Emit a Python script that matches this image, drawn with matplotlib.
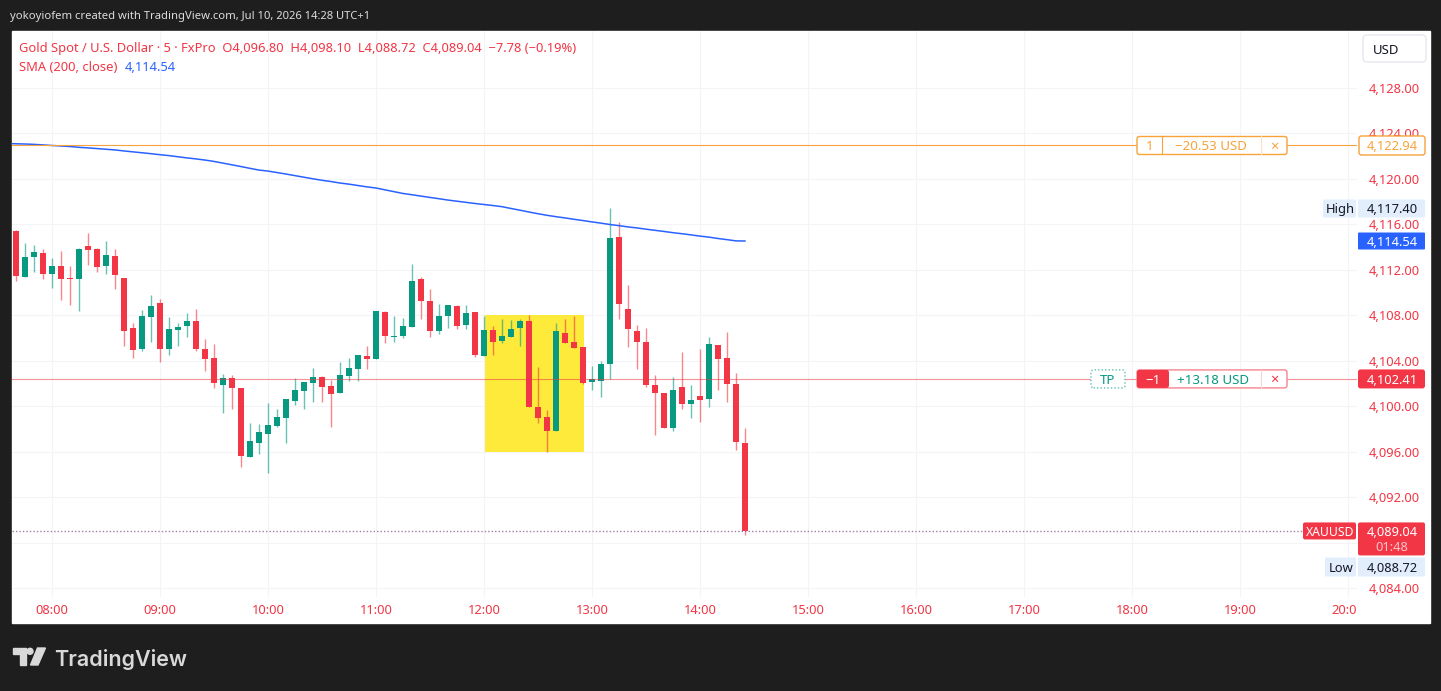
import matplotlib
matplotlib.use("Agg")
import matplotlib.pyplot as plt
import matplotlib.patches as mpatches
from matplotlib.transforms import IdentityTransform, Bbox, blended_transform_factory

plt.rcParams['font.family'] = ['Noto Sans', 'DejaVu Sans']

# ---- data (5-minute XAUUSD bars) ----
first_bar = "07:40"
sma_first = "07:35"
bar_minutes = 5

opens = [4115.42, 4111.38, 4113.14, 4113.49, 4111.64, 4112.35, 4111.29, 4111.20, 4114.10, 4113.84,
         4112.35, 4113.22, 4111.29, 4106.89, 4105.05, 4107.86, 4109.09, 4105.05, 4106.72, 4107.07,
         4107.51, 4105.05, 4104.25, 4101.88, 4102.49, 4101.62, 4095.55, 4096.78, 4097.57, 4098.27,
         4098.98, 4100.47, 4101.35, 4102.06, 4102.58, 4101.79, 4101.18, 4102.67, 4103.29, 4104.43,
         4104.17, 4108.30, 4106.10, 4106.19, 4106.98, 4111.20, 4109.27, 4106.63, 4107.95, 4108.83,
         4107.16, 4108.30, 4104.43, 4106.72, 4105.75, 4106.10, 4106.89, 4107.51, 4099.94, 4099.07,
         4097.83, 4106.45, 4105.66, 4105.22, 4102.14, 4102.23, 4103.73, 4114.90, 4108.56, 4106.63,
         4105.66, 4101.88, 4101.18, 4098.10, 4101.70, 4100.21, 4100.91, 4100.65, 4105.40, 4104.25,
         4101.97, 4096.80]
highs = [4115.51, 4114.37, 4114.19, 4113.84, 4113.05, 4113.67, 4112.35, 4113.93, 4115.25, 4113.93,
         4114.54, 4113.84, 4111.29, 4107.33, 4108.48, 4109.80, 4109.44, 4107.86, 4107.33, 4108.21,
         4108.56, 4105.92, 4105.49, 4102.85, 4102.76, 4101.62, 4098.54, 4098.45, 4100.30, 4099.77,
         4100.65, 4102.49, 4102.14, 4103.37, 4102.67, 4102.32, 4103.90, 4104.25, 4104.52, 4105.31,
         4108.39, 4108.39, 4107.95, 4107.77, 4112.52, 4111.38, 4110.32, 4109.00, 4108.92, 4108.92,
         4108.92, 4108.30, 4107.95, 4107.07, 4107.68, 4107.60, 4107.68, 4108.04, 4103.46, 4099.68,
         4107.33, 4107.68, 4107.95, 4105.22, 4103.55, 4103.99, 4117.40, 4116.22, 4110.67, 4107.16,
         4106.89, 4102.76, 4101.18, 4102.58, 4104.78, 4101.88, 4105.05, 4106.10, 4105.40, 4106.54,
         4102.94, 4098.10]
lows = [4111.03, 4111.38, 4111.82, 4111.20, 4110.41, 4109.35, 4108.92, 4108.39, 4112.43, 4111.82,
        4111.64, 4110.32, 4105.31, 4104.25, 4104.87, 4105.66, 4103.90, 4104.52, 4105.31, 4106.10,
        4104.87, 4103.11, 4101.62, 4099.42, 4099.77, 4094.67, 4095.55, 4095.81, 4094.14, 4098.19,
        4096.78, 4100.12, 4099.77, 4100.38, 4100.38, 4098.19, 4101.18, 4102.23, 4102.23, 4103.29,
        4104.17, 4105.57, 4105.66, 4106.01, 4106.98, 4107.68, 4106.10, 4106.37, 4106.89, 4106.80,
        4106.80, 4104.34, 4104.43, 4104.52, 4105.57, 4106.10, 4105.31, 4099.94, 4098.54, 4095.99,
        4097.83, 4105.57, 4105.13, 4101.97, 4101.44, 4100.82, 4102.41, 4107.68, 4105.22, 4103.29,
        4101.70, 4097.48, 4098.10, 4097.83, 4099.77, 4098.98, 4098.63, 4099.94, 4101.44, 4100.38,
        4096.16, 4088.72]
closes = [4111.47, 4113.14, 4113.58, 4111.64, 4112.35, 4111.20, 4111.20, 4113.84, 4113.75, 4112.26,
          4113.31, 4111.55, 4106.63, 4104.96, 4107.95, 4108.83, 4105.05, 4106.80, 4106.98, 4107.51,
          4105.05, 4104.17, 4102.06, 4102.49, 4101.62, 4095.64, 4096.95, 4097.75, 4098.36, 4099.07,
          4100.65, 4101.44, 4102.14, 4102.58, 4101.70, 4101.09, 4102.76, 4103.37, 4104.52, 4104.17,
          4108.39, 4106.19, 4106.19, 4107.07, 4111.03, 4109.27, 4106.63, 4107.95, 4108.92, 4107.07,
          4108.21, 4104.52, 4106.72, 4105.66, 4106.19, 4106.80, 4107.51, 4099.94, 4098.98, 4097.83,
          4106.63, 4105.57, 4105.13, 4102.06, 4102.41, 4103.73, 4114.81, 4109.00, 4106.80, 4105.66,
          4101.88, 4101.18, 4098.10, 4101.44, 4100.21, 4100.56, 4100.56, 4105.49, 4104.17, 4101.97,
          4096.82, 4089.04]
sma200 = [4123.12,
          4123.09, 4123.07, 4123.04, 4122.99, 4122.94, 4122.90, 4122.85, 4122.78, 4122.73, 4122.67,
          4122.61, 4122.55, 4122.46, 4122.38, 4122.30, 4122.22, 4122.13, 4122.05, 4121.95, 4121.85,
          4121.76, 4121.66, 4121.54, 4121.39, 4121.24, 4121.09, 4120.93, 4120.78, 4120.69, 4120.56,
          4120.43, 4120.29, 4120.15, 4120.01, 4119.88, 4119.77, 4119.64, 4119.54, 4119.42, 4119.30,
          4119.20, 4119.04, 4118.88, 4118.72, 4118.61, 4118.49, 4118.37, 4118.26, 4118.14, 4118.04,
          4117.94, 4117.84, 4117.75, 4117.66, 4117.56, 4117.40, 4117.25, 4117.09, 4116.94, 4116.80,
          4116.68, 4116.57, 4116.45, 4116.34, 4116.22, 4116.11, 4115.99, 4115.89, 4115.78, 4115.69,
          4115.58, 4115.48, 4115.38, 4115.27, 4115.18, 4115.08, 4114.97, 4114.88, 4114.76, 4114.66,
          4114.55, 4114.54]

stop_price = 4122.94
stop_pnl = "\u221220.53 USD"
tp_price = 4102.41
tp_pnl = "+13.18 USD"
box_times = ["12:00", "12:55"]
box_prices = [4095.99, 4108.04]
price_ticks = [4128, 4124, 4120, 4116, 4112, 4108, 4104, 4100, 4096, 4092, 4088, 4084]
hidden_ticks = [4088]   # covered by the last-price label
time_ticks = ["08:00", "09:00", "10:00", "11:00", "12:00", "13:00", "14:00",
              "15:00", "16:00", "17:00", "18:00", "19:00", "20:00"]
countdown = "01:48"

GREEN = '#089981'
RED = '#F23645'
BLUE = '#2962FF'
ORANGE = '#F7A33A'
W, H = 1441, 691


def bar_index(hhmm):
    h, m = hhmm.split(':')
    return (int(h) * 60 + int(m) - 8 * 60) / bar_minutes


fig = plt.figure(figsize=(W / 100, H / 100), dpi=100)
fig.patch.set_facecolor('#1e1e1e')
fig.add_artist(mpatches.Rectangle((12 / W, (H - 623) / H), (1430 - 12) / W, (623 - 31) / H,
                                  transform=fig.transFigure, color='white', zorder=-10))

ax = fig.add_axes([12 / W, (H - 597) / H, (1357 - 12) / W, (597 - 31) / H])
ax.set_facecolor('none')
ax.set_xlim(-4.44, 145.0)
ax.set_ylim(4083.23, 4133.01)
for s in ax.spines.values():
    s.set_visible(False)
ax.set_xticks([bar_index(t) for t in time_ticks])
ax.set_yticks(price_ticks)
ax.tick_params(length=0, labelbottom=False, labelleft=False)
ax.grid(True, color='#f3f4f7', lw=0.8)
ax.set_axisbelow(True)

# highlighted zone
b0, b1 = bar_index(box_times[0]), bar_index(box_times[1])
ax.add_patch(mpatches.Rectangle((b0 + 0.1, box_prices[0]), b1 - b0, box_prices[1] - box_prices[0],
                                facecolor='#FDEA3A', edgecolor='none', zorder=1))

# candles
x0 = bar_index(first_bar)
for i in range(len(opens)):
    x = x0 + i
    o, hi, lo, c = opens[i], highs[i], lows[i], closes[i]
    col = GREEN if c >= o else RED
    ax.vlines(x, lo, hi, color=col, lw=1.0, alpha=0.6, zorder=2)
    body = max(abs(c - o), 0.09)
    ax.add_patch(mpatches.Rectangle((x - 0.37, min(o, c)), 0.74, body,
                                    facecolor=col, edgecolor='none', zorder=3))

# SMA 200
sx = [bar_index(sma_first) + i for i in range(len(sma200))]
ax.plot(sx, sma200, color=BLUE, lw=1.1, zorder=4)

# order lines
ax.axhline(stop_price, color=ORANGE, lw=0.8, zorder=4)
ax.axhline(tp_price, color=RED, lw=0.8, alpha=0.55, zorder=4)
last_x_frac = (1302 - 12) / (1357 - 12)
ax.axhline(closes[-1], xmax=last_x_frac, color='#A77BA6', lw=1.0, ls=(0, (1, 1.5)), zorder=4)

ID = IdentityTransform()


def yp(price):
    return ax.transData.transform((0, price))[1]


def box(xa, xb, yc, h, fc, ec='none', ls='-', r=2.5, lw=1.0, z=5):
    p = mpatches.FancyBboxPatch((xa, yc - h / 2), xb - xa, h,
                                boxstyle=f"round,pad=0,rounding_size={r}",
                                facecolor=fc, edgecolor=ec, lw=lw, ls=ls, transform=ID, zorder=z)
    fig.add_artist(p)
    return p


def txt(x, y, s, z=7, **kw):
    kw.setdefault('fontsize', 9.3)
    kw.setdefault('va', 'center_baseline')
    return fig.text(x, y, s, transform=ID, zorder=z, **kw)


# price scale labels
for p in price_ticks:
    if p in hidden_ticks:
        continue
    txt(1420, yp(p), f"{p:,.2f}", ha='right', color=RED, z=3.5)

# time scale labels
clip = Bbox([[12, 0], [1357, H]])
tr = blended_transform_factory(ax.transData, ID)
for t in time_ticks:
    tt = fig.text(bar_index(t), H - 609, t, transform=tr, ha='center', va='center_baseline',
                  fontsize=9.3, color=RED, zorder=3)
    tt.set_clip_box(clip)
    tt.set_clip_on(True)

# stop loss labels
ys = yp(stop_price)
box(1137, 1287, ys, 18, 'white', ORANGE)
fig.add_artist(plt.Line2D([1162, 1162], [ys - 9, ys + 9], color=ORANGE, lw=0.8, transform=ID, zorder=6))
fig.add_artist(plt.Line2D([1261, 1261], [ys - 9, ys + 9], color='#fde3bd', lw=0.8, transform=ID, zorder=6))
txt(1149.5, ys, "1", ha='center', color=ORANGE, fontsize=9.6)
txt(1211, ys, stop_pnl, ha='center', color=ORANGE, fontsize=9.6)
txt(1274, ys, "\u00d7", ha='center', color=ORANGE, fontsize=10.5)
box(1359, 1425, ys, 19, 'white', ORANGE)
txt(1392, ys, f"{stop_price:,.2f}", ha='center', color=ORANGE)

# take profit labels
yt = yp(tp_price)
box(1091, 1125, yt, 18, 'white', '#5fbfae', ls=(0, (1, 1.5)))
txt(1108, yt, "TP", ha='center', color=GREEN, fontsize=9.6)
box(1137, 1287, yt, 18, 'white', '#f6838e')
fig.add_artist(mpatches.FancyBboxPatch((1137, yt - 9), 32, 18, boxstyle="round,pad=0,rounding_size=2.5",
                                       facecolor=RED, edgecolor='none', transform=ID, zorder=5.5))
fig.add_artist(plt.Line2D([1261, 1261], [yt - 9, yt + 9], color='#fbd4d8', lw=0.8, transform=ID, zorder=6))
txt(1153, yt, "\u22121", ha='center', color='white', fontsize=9.6)
txt(1213, yt, tp_pnl, ha='center', color=GREEN, fontsize=9.6)
txt(1274, yt, "\u00d7", ha='center', color=RED, fontsize=10.5)
box(1358, 1425, yt, 19, RED)
txt(1392, yt, f"{tp_price:,.2f}", ha='center', color='white')

# high / sma / last / low labels
y_hi = yp(max(highs))
box(1323, 1356, y_hi, 18, '#E3EEFC', r=1)
box(1358, 1425, y_hi, 18, '#E3EEFC', r=1)
txt(1340, y_hi, "High", ha='center', color='#131722')
txt(1392, y_hi, f"{max(highs):,.2f}", ha='center', color='#131722')

y_sma = yp(sma200[-1])
box(1358, 1425, y_sma, 17, BLUE, r=1)
txt(1392, y_sma, f"{sma200[-1]:,.2f}", ha='center', color='white')

y_last = yp(closes[-1])
box(1303, 1356, y_last, 17, RED, r=2)
txt(1330, y_last, "XAUUSD", ha='center', color='white', fontweight='bold', fontsize=8.8)
box(1358, 1425, y_last - 8, 33, RED, r=2)
txt(1392, y_last, f"{closes[-1]:,.2f}", ha='center', color='white')
txt(1392, y_last - 15, countdown, ha='center', color='#fcc5ca')

y_low = H - 567
box(1325, 1356, y_low, 19, '#E3EEFC', r=1)
box(1358, 1425, y_low, 19, '#E3EEFC', r=1)
txt(1341, y_low, "Low", ha='center', color='#131722')
txt(1392, y_low, f"{min(lows):,.2f}", ha='center', color='#131722')

# currency button
box(1363, 1426, H - 48.5, 27, 'white', '#e6e8ee', r=4)
txt(1373, H - 48.5, "USD", ha='left', color='#131722', fontsize=9.5)

# header texts
txt(10, H - 15, "yokoyiofem created with TradingView.com, Jul 10, 2026 14:28 UTC+1",
    color='#dcdcdc', fontsize=8.1)
chg = closes[-1] - closes[-2]
pct = chg / closes[-2] * 100
legend = (f"Gold Spot / U.S. Dollar \u00b7 5 \u00b7 FxPro  O{opens[-1]:,.2f}  H{highs[-1]:,.2f}  "
          f"L{lows[-1]:,.2f}  C{closes[-1]:,.2f}  \u2212{abs(chg):.2f} (\u2212{abs(pct):.2f}%)")
txt(19, H - 47, legend, color=RED, fontsize=9.3)
txt(19, H - 66, "SMA (200, close)", color=RED, fontsize=9.3)
txt(125, H - 66, f"{sma200[-1]:,.2f}", color=BLUE, fontsize=9.3)

# TradingView logo
logo_col = '#d9d9d9'
fig.add_artist(mpatches.Polygon([(13, H - 648), (26, H - 648), (26, H - 665), (20, H - 665),
                                 (20, H - 654), (13, H - 654)], closed=True, color=logo_col, transform=ID))
fig.add_artist(mpatches.Circle((30, H - 651.3), 3.0, color=logo_col, transform=ID))
fig.add_artist(mpatches.Polygon([(37.5, H - 648), (45.5, H - 648), (38, H - 665), (30.5, H - 665)],
                                closed=True, color=logo_col, transform=ID))
txt(54, H - 657, "TradingView", color=logo_col, fontsize=15.5, fontweight='semibold',
    family=['Inter', 'DejaVu Sans'])

fig.savefig("out.png", dpi=100, facecolor=fig.get_facecolor())
